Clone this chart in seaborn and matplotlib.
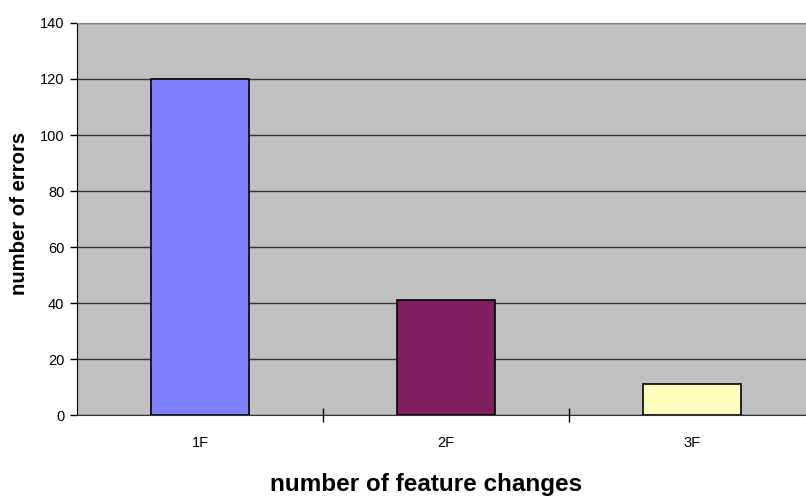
import matplotlib
matplotlib.use('Agg')
import matplotlib.pyplot as plt
import seaborn as sns
import pandas as pd

# --- データ ---
categories = ['1F', '2F', '3F']
errors = [120, 41, 11]
bar_colors = ['#8080FF', '#7F1F5F', '#FFFFC0']

df = pd.DataFrame({'changes': categories, 'errors': errors})

sns.set_style('white')
plt.rcParams['font.family'] = ['Liberation Sans', 'DejaVu Sans']
plt.rcParams['text.color'] = 'black'
plt.rcParams['axes.labelcolor'] = 'black'
plt.rcParams['xtick.color'] = 'black'
plt.rcParams['ytick.color'] = 'black'

fig = plt.figure(figsize=(8.06, 4.98), dpi=100)
# 右端は画像の外まで伸びている
ax = fig.add_axes([77 / 806, 1 - 415 / 498, 738 / 806, 392 / 498])
ax.set_facecolor('#C0C0C0')

sns.barplot(data=df, x='changes', y='errors', hue='changes', palette=bar_colors,
            width=0.4, edgecolor='black', linewidth=1.2, legend=False,
            saturation=1, zorder=3, ax=ax)

ax.set_xlim(-0.5, 2.5)
ax.set_ylim(0, 140)
ax.set_yticks(range(0, 141, 20))
ax.yaxis.grid(True, color='#333333', linewidth=1, zorder=0)
ax.set_axisbelow(True)

# 目盛り
ax.tick_params(axis='y', direction='out', length=5, width=1, color='black',
               labelsize=10.5, pad=4, left=True)
ax.set_xticks([0, 1, 2])
ax.set_xticklabels(categories)
ax.tick_params(axis='x', which='major', length=0, labelsize=10.5, pad=15)
ax.set_xticks([0.5, 1.5], minor=True)
ax.tick_params(axis='x', which='minor', direction='inout', length=10,
               width=1, color='black', bottom=True)

for side in ['top', 'right']:
    ax.spines[side].set_color('#808080')
ax.spines['left'].set_color('black')
ax.spines['bottom'].set_color('#333333')

ax.set_xlabel('number of feature changes', fontsize=17.5, fontweight='bold')
ax.xaxis.set_label_coords(349.5 / 738, -58 / 392)
ax.set_ylabel('number of errors', fontsize=14.6, fontweight='bold')
ax.yaxis.set_label_coords(-48 / 738, 0.514)

fig.savefig('out.png', dpi=100)
